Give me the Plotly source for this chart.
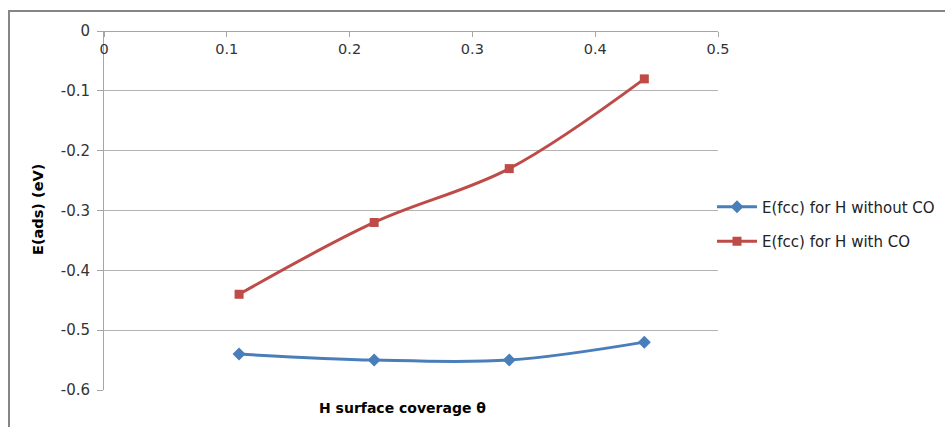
import plotly.graph_objects as go

coverage = [0.11, 0.22, 0.33, 0.44]
e_without_co = [-0.54, -0.55, -0.55, -0.52]
e_with_co = [-0.44, -0.32, -0.23, -0.08]
names = ["E(fcc) for H without CO", "E(fcc) for H with CO"]
x_ticks = [0, 0.1, 0.2, 0.3, 0.4, 0.5]
y_ticks = [0, -0.1, -0.2, -0.3, -0.4, -0.5, -0.6]

W, H = 945, 427
L, R, T, B = 104, 718, 31, 390

def px(x):
    return (x - L) / (W - L)

def py(y):
    return (B - y) / (B - T)

fig = go.Figure()
fig.add_trace(go.Scatter(x=coverage, y=e_without_co, name=names[0], mode="lines+markers",
                         legendgroup="a",
                         line=dict(color="#4A7EBB", width=3, shape="spline", smoothing=1),
                         marker=dict(symbol="diamond", size=10, color="#4A7EBB")))
fig.add_trace(go.Scatter(x=coverage, y=e_with_co, name=names[1], mode="lines+markers",
                         legendgroup="b",
                         line=dict(color="#BE4B48", width=3, shape="spline", smoothing=1),
                         marker=dict(symbol="square", size=9, color="#BE4B48")))

font = "DejaVu Sans, Verdana, sans-serif"
fig.update_layout(
    width=W, height=H,
    margin=dict(l=L, r=0, t=T, b=H - B, autoexpand=False),
    paper_bgcolor="white", plot_bgcolor="white",
    font=dict(family=font, size=15, color="#333333"),
    showlegend=True,
    legend=dict(x=px(712), y=py(224), xanchor="left", yanchor="middle",
                font=dict(size=15, color="#222222"), traceorder="grouped",
                tracegroupgap=12,
                bgcolor="rgba(0,0,0,0)", itemwidth=40),
    xaxis=dict(range=[0, 0.5], tickvals=x_ticks, ticktext=[str(v) for v in x_ticks],
               domain=[0, px(R)],
               anchor="free", position=1, side="bottom",
               showline=True, linecolor="#a6a6a6", linewidth=1,
               ticks="outside", ticklen=5, tickcolor="#a6a6a6",
               showgrid=False, zeroline=False, tickfont=dict(size=14.5)),
    yaxis=dict(range=[-0.6, 0], tickvals=y_ticks, ticktext=[str(v) for v in y_ticks],
               showline=True, linecolor="#a6a6a6", linewidth=1,
               ticks="outside", ticklen=6, tickcolor="#a6a6a6",
               showgrid=True, gridcolor="#b3b3b3", gridwidth=1,
               zeroline=False, tickfont=dict(size=15), ticklabelstandoff=4),
)

fig.add_annotation(text="<b>E(ads) (eV)</b>", xref="paper", yref="paper",
                   x=px(38), y=py(210), xanchor="center", yanchor="middle",
                   textangle=-90, showarrow=False,
                   font=dict(size=14.5, color="#000000"))
fig.add_annotation(text="<b>H surface coverage θ</b>", xref="paper", yref="paper",
                   x=px(402), y=py(408), xanchor="center", yanchor="middle",
                   showarrow=False,
                   font=dict(size=14, color="#000000"))

fig.add_shape(type="rect", xref="paper", yref="paper",
              x0=px(9), x1=px(960), y0=py(440), y1=py(11),
              line=dict(color="#868686", width=2), layer="below")

fig.write_html("out.html")
